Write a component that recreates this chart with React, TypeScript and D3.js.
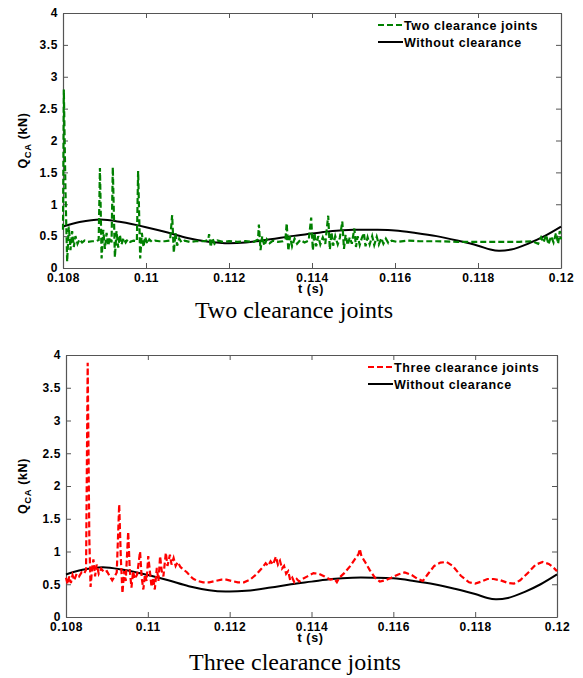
import React, { useEffect, useRef } from 'react'
import * as d3 from 'd3'

// time ticks and force ticks shared by both panels
const timeTicks = [0.108, 0.11, 0.112, 0.114, 0.116, 0.118, 0.12]
const forceTicks = [0, 0.5, 1, 1.5, 2, 2.5, 3, 3.5, 4]

// reference curve, no clearance
const noClearT = [0.108, 0.1084, 0.1089, 0.1094, 0.11, 0.1105, 0.111, 0.1115, 0.1119, 0.1124, 0.113, 0.1135, 0.114, 0.1145, 0.115, 0.1155, 0.116, 0.1165, 0.117, 0.1175, 0.118, 0.1183, 0.1185, 0.1188, 0.1192, 0.1196, 0.12]
const noClearQ = [0.65, 0.72, 0.76, 0.72, 0.64, 0.56, 0.47, 0.41, 0.39, 0.4, 0.45, 0.5, 0.54, 0.58, 0.6, 0.6, 0.59, 0.55, 0.5, 0.43, 0.35, 0.29, 0.27, 0.29, 0.38, 0.5, 0.65]

// two clearance joints
const twoT = [0.108, 0.10802, 0.10806, 0.1081, 0.10814, 0.10818, 0.10822, 0.10826, 0.1083, 0.10835, 0.1084, 0.10846, 0.10852, 0.1086, 0.1087, 0.1088,
  0.10886, 0.10889, 0.10893, 0.10897, 0.10901, 0.10905, 0.10909, 0.10913, 0.10917, 0.1092, 0.10925, 0.10929, 0.10933, 0.10937, 0.10941, 0.10946, 0.10951, 0.10956, 0.10962, 0.1097, 0.10978,
  0.10981, 0.10986, 0.1099, 0.10994, 0.10998, 0.11003, 0.11008, 0.11014, 0.11022, 0.11032, 0.11045, 0.11058, 0.11063, 0.11067, 0.11071, 0.11075, 0.1108, 0.11086, 0.11093, 0.11105, 0.1112, 0.1114,
  0.1115, 0.11152, 0.11156, 0.1116, 0.11165, 0.11172, 0.11185, 0.112, 0.1122, 0.1124, 0.1126, 0.1127, 0.11272, 0.11276, 0.1128, 0.11285, 0.11291, 0.11298, 0.11306, 0.11318, 0.1133,
  0.11336, 0.11339, 0.11343, 0.11347, 0.11352, 0.11358, 0.11364, 0.11372, 0.11382, 0.11392, 0.11398, 0.11402, 0.11406, 0.1141, 0.11415, 0.1142, 0.11426, 0.11432, 0.11439, 0.11443, 0.11447,
  0.11451, 0.11456, 0.11462, 0.11467, 0.11473, 0.11477, 0.11481, 0.11486, 0.11491, 0.11496, 0.11502, 0.11506, 0.1151, 0.11515, 0.1152, 0.11525, 0.11529, 0.11534, 0.11539, 0.11545, 0.1155,
  0.11556, 0.11561, 0.11567, 0.11572, 0.11578, 0.11584, 0.11592, 0.11605, 0.1163, 0.1166, 0.117, 0.1175, 0.118, 0.1185, 0.119, 0.1193, 0.11945, 0.11952, 0.11958, 0.11964, 0.1197, 0.11976,
  0.11982, 0.11988, 0.11993, 0.11997, 0.12]
const twoQ = [0.6, 2.8, 1.2, 0.1, 0.65, 0.28, 0.58, 0.33, 0.5, 0.38, 0.45, 0.4, 0.43, 0.41, 0.42, 0.42,
  0.44, 1.57, 0.15, 0.6, 0.3, 0.55, 0.35, 0.48, 0.4, 1.58, 0.17, 0.58, 0.32, 0.52, 0.37, 0.47, 0.4, 0.45, 0.41, 0.43, 0.42,
  1.52, 0.15, 0.55, 0.33, 0.49, 0.38, 0.45, 0.41, 0.43, 0.42, 0.42, 0.43, 0.83, 0.24, 0.55, 0.35, 0.46, 0.4, 0.43, 0.41, 0.42, 0.42,
  0.44, 0.53, 0.33, 0.47, 0.38, 0.43, 0.41, 0.42, 0.41, 0.42, 0.41, 0.45, 0.68, 0.28, 0.5, 0.35, 0.45, 0.39, 0.43, 0.41, 0.42,
  0.45, 0.7, 0.27, 0.5, 0.34, 0.46, 0.38, 0.44, 0.4, 0.43, 0.79, 0.28, 0.55, 0.34, 0.5, 0.37, 0.48, 0.38, 0.82, 0.29, 0.56,
  0.35, 0.5, 0.37, 0.47, 0.73, 0.3, 0.52, 0.36, 0.48, 0.38, 0.62, 0.33, 0.5, 0.36, 0.47, 0.55, 0.34, 0.48, 0.37, 0.5, 0.36,
  0.49, 0.37, 0.47, 0.38, 0.46, 0.39, 0.43, 0.41, 0.43, 0.42, 0.42, 0.41, 0.41, 0.41, 0.41, 0.42, 0.38, 0.48, 0.4, 0.52, 0.37, 0.5,
  0.4, 0.55, 0.38, 0.58, 0.45]

// three clearance joints
const threeT = [0.108, 0.10804, 0.10808, 0.10812, 0.10816, 0.1082, 0.10826, 0.10832, 0.10838, 0.10844, 0.10849, 0.10853, 0.10857, 0.1086, 0.10864, 0.10867, 0.10871, 0.10875, 0.1088, 0.10886,
  0.10893, 0.109, 0.10907, 0.10913, 0.10919, 0.10924, 0.1093, 0.10934, 0.10938, 0.10942, 0.10946, 0.10952, 0.10956, 0.1096, 0.10964, 0.10968, 0.10974, 0.10981, 0.10985, 0.10989, 0.10993,
  0.10997, 0.11001, 0.11005, 0.11009, 0.11013, 0.11017, 0.11022, 0.11026, 0.1103, 0.11034, 0.11038, 0.11044, 0.11048, 0.11054, 0.11058, 0.11063, 0.11068, 0.11073, 0.1108, 0.11088,
  0.11096, 0.11104, 0.11112, 0.11122, 0.11135, 0.1115, 0.11165, 0.1118, 0.11192, 0.11205, 0.1122, 0.11235, 0.1125, 0.11265, 0.11278, 0.11288, 0.11294, 0.113, 0.11306, 0.11313, 0.11318,
  0.11323, 0.11328, 0.11333, 0.11338, 0.11343, 0.11348, 0.11353, 0.11358, 0.11364, 0.1137, 0.11378, 0.1139, 0.11405, 0.11418, 0.11432, 0.11446, 0.11456, 0.11462, 0.11468, 0.1148,
  0.11495, 0.11508, 0.11515, 0.11518, 0.11522, 0.1153, 0.11542, 0.11555, 0.11567, 0.1158, 0.11595, 0.11612, 0.11628, 0.11645, 0.1166, 0.11672, 0.11685, 0.117, 0.11715, 0.1173, 0.11745,
  0.11765, 0.11785, 0.118, 0.11815, 0.1183, 0.11845, 0.11862, 0.1188, 0.11895, 0.1191, 0.1193, 0.11948, 0.11965, 0.1198, 0.11992, 0.12]
const threeQ = [0.6, 0.5, 0.62, 0.52, 0.64, 0.56, 0.66, 0.62, 0.68, 0.66, 0.72, 3.88, 1.2, 0.46, 0.75, 0.88, 0.62, 0.8, 0.66, 0.74,
  0.68, 0.7, 0.62, 0.56, 0.62, 0.68, 1.72, 0.9, 0.36, 0.7, 0.55, 1.3, 0.7, 0.45, 0.7, 0.58, 0.65, 1.0, 0.6, 0.42, 0.65,
  0.55, 0.93, 0.7, 0.46, 0.6, 0.42, 0.75, 0.55, 0.93, 0.7, 0.62, 0.98, 0.78, 0.95, 0.8, 0.9, 0.78, 0.84, 0.76, 0.72,
  0.68, 0.62, 0.58, 0.55, 0.53, 0.53, 0.55, 0.57, 0.57, 0.55, 0.53, 0.53, 0.57, 0.65, 0.74, 0.82, 0.78, 0.85, 0.8, 0.92, 0.8,
  0.86, 0.74, 0.78, 0.66, 0.7, 0.56, 0.6, 0.53, 0.58, 0.54, 0.58, 0.62, 0.67, 0.66, 0.62, 0.57, 0.58, 0.53, 0.6, 0.67,
  0.78, 0.9, 0.96, 1.04, 0.93, 0.85, 0.72, 0.6, 0.54, 0.56, 0.6, 0.65, 0.68, 0.64, 0.58, 0.55, 0.66, 0.78, 0.83, 0.84, 0.78,
  0.63, 0.53, 0.51, 0.54, 0.58, 0.58, 0.56, 0.52, 0.51, 0.56, 0.68, 0.8, 0.84, 0.81, 0.75, 0.7]

const panels = [
  { left: 63, top: 13, right: 561, bottom: 268, label: 'Two clearance joints', t: twoT, q: twoQ, color: '#008000', caption: 'Two clearance joints', capX: 294, capY: 318 },
  { left: 66, top: 355, right: 557, bottom: 617, label: 'Three clearance joints', t: threeT, q: threeQ, color: '#ff0000', caption: 'Three clearance joints', capX: 295, capY: 670 }
]

const fmtT = (v: number) => String(+v.toFixed(3))

export default function App () {
  const ref = useRef<SVGSVGElement>(null)

  useEffect(() => {
    const svg = d3.select(ref.current)
    svg.selectAll('*').remove()

    panels.forEach(p => {
      const x = d3.scaleLinear().domain([0.108, 0.12]).range([p.left, p.right])
      const y = d3.scaleLinear().domain([0, 4]).range([p.bottom, p.top])
      const g = svg.append('g')

      // box and inward ticks on all sides
      const axes = [
        { ax: d3.axisBottom(x), tr: `translate(0,${p.bottom})`, lab: true },
        { ax: d3.axisTop(x), tr: `translate(0,${p.top})`, lab: false },
        { ax: d3.axisLeft(y), tr: `translate(${p.left},0)`, lab: true },
        { ax: d3.axisRight(y), tr: `translate(${p.right},0)`, lab: false }
      ]
      axes.forEach((a, i) => {
        const isX = i < 2
        a.ax.tickValues(isX ? timeTicks : forceTicks)
          .tickSizeInner(-5).tickSizeOuter(0).tickPadding(5)
          .tickFormat((d: any) => a.lab ? (isX ? fmtT(d) : String(d)) : '')
        const ag = g.append('g').attr('transform', a.tr).call(a.ax as any)
        ag.select('.domain').attr('stroke', '#555').attr('stroke-width', 1.2)
        ag.selectAll('.tick line').attr('stroke', '#555')
        ag.selectAll('.tick text')
          .attr('fill', '#000')
          .style('font-family', 'Liberation Sans, Arial, sans-serif')
          .style('font-weight', 'bold')
          .style('font-size', '12px')
          .style('letter-spacing', '0.6px')
      })

      const line = d3.line<number>().x((d, i) => x(p.t[i])).y(d => y(d))
      const smooth = d3.line<number>().x((d, i) => x(noClearT[i])).y(d => y(d)).curve(d3.curveCatmullRom)

      g.append('path')
        .attr('d', smooth(noClearQ))
        .attr('fill', 'none').attr('stroke', '#000').attr('stroke-width', 2)

      g.append('path')
        .attr('d', line(p.q))
        .attr('fill', 'none').attr('stroke', p.color).attr('stroke-width', 2.2)
        .attr('stroke-dasharray', '6,3')

      // legend
      const txtStyle = (s: any) => s
        .style('font-family', 'Liberation Sans, Arial, sans-serif')
        .style('font-weight', 'bold')
        .style('font-size', '12.5px')
        .style('letter-spacing', '0.6px')
      const lx = p.right - (p.label.length > 20 ? 189 : 183)
      const ly = p.top + 12
      const items = [
        { name: p.label, color: p.color, dash: '6,3' },
        { name: 'Without clearance', color: '#000', dash: null }
      ]
      items.forEach((it, k) => {
        g.append('line')
          .attr('x1', lx).attr('x2', lx + 25)
          .attr('y1', ly + k * 17).attr('y2', ly + k * 17)
          .attr('stroke', it.color).attr('stroke-width', 2)
          .attr('stroke-dasharray', it.dash)
        g.append('text')
          .attr('x', lx + 26).attr('y', ly + k * 17 + 4.5)
          .text(it.name)
          .call(txtStyle)
      })

      // axis labels
      g.append('text')
        .attr('x', (p.left + p.right) / 2 - 1).attr('y', p.bottom + 25)
        .attr('text-anchor', 'middle')
        .text('t (s)')
        .call(txtStyle)

      const yl = g.append('text')
        .attr('transform', `translate(27,${(p.top + p.bottom) / 2}) rotate(-90)`)
        .attr('text-anchor', 'middle')
        .call(txtStyle)
      yl.append('tspan').text('Q')
      yl.append('tspan').text('CA').attr('dy', 4).style('font-size', '9.5px')
      yl.append('tspan').text(' (kN)').attr('dy', -4)

      // caption
      g.append('text')
        .attr('x', p.capX).attr('y', p.capY)
        .attr('text-anchor', 'middle')
        .style('font-family', 'Liberation Serif, Times New Roman, serif')
        .style('font-size', '24px')
        .text(p.caption)
    })
  }, [])

  return (
    <svg ref={ref} width={583} height={678}
      style={{ position: 'absolute', left: 0, top: 0, background: '#fff' }} />
  )
}
